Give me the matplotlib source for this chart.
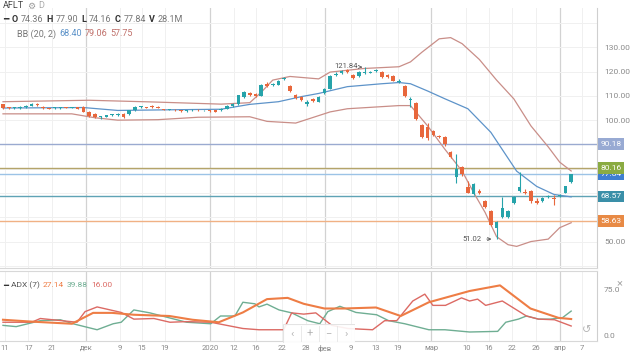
import matplotlib
matplotlib.use("Agg")
import matplotlib.pyplot as plt
from matplotlib.patches import Rectangle
import numpy as np

plt.rcParams['font.family'] = ['Roboto', 'DejaVu Sans']

# ---- data: daily candles (index 0 = 11 Nov 2019) ----
opens = [106.5, 105.2, 105.0, 105.0, 105.4, 106.0, 106.6, 105.5, 105.0, 104.9,
         105.0, 105.3, 105.2, 105.3, 105.5, 103.4, 102.6, 101.3, 101.5, 102.0,
         102.0, 102.7, 102.5, 104.0, 105.3, 105.3, 105.9, 105.5, 104.5, 104.3,
         104.1, 103.9, 103.8, 104.0, 104.1, 104.0, 103.9, 104.0, 104.0, 104.8,
         105.8, 106.5, 109.5, 111.2, 110.8, 110.0, 115.0, 114.3, 114.6, 116.8,
         114.0, 110.3, 109.6, 106.5, 108.8, 107.6, 111.0, 113.0, 118.8, 119.5,
         120.5, 118.5, 118.0, 119.5, 119.6, 120.3, 120.0, 118.8, 118.0, 115.8,
         114.0, 108.5, 107.0, 98.0, 97.0, 95.6, 93.2, 93.0, 86.8, 76.5,
         80.6, 72.3, 69.4, 71.0, 66.5, 62.4, 55.7, 60.0, 60.0, 66.0,
         70.7, 70.5, 70.7, 66.5, 66.5, 68.4, 68.0, 68.8, 70.2, 74.36]
closes = [105.0, 105.0, 105.3, 105.6, 106.0, 106.6, 106.2, 105.0, 104.8, 105.1,
          105.3, 105.2, 105.3, 104.6, 103.4, 101.8, 101.3, 101.5, 102.0, 102.1,
          102.7, 101.3, 104.0, 105.5, 105.4, 105.2, 105.3, 105.2, 104.3, 104.4,
          104.0, 103.8, 103.9, 104.1, 104.0, 104.1, 103.8, 103.5, 104.8, 105.8,
          106.6, 110.2, 111.5, 110.5, 109.8, 114.5, 114.0, 114.7, 116.2, 117.2,
          112.0, 109.2, 108.4, 107.6, 108.0, 109.7, 113.0, 118.0, 119.2, 120.3,
          119.8, 117.5, 120.0, 119.8, 119.7, 120.6, 117.6, 117.6, 116.3, 116.2,
          110.0, 108.8, 100.5, 93.0, 92.5, 93.8, 93.0, 90.0, 84.8, 79.8,
          77.7, 70.2, 73.6, 70.0, 64.4, 57.0, 58.2, 64.0, 62.4, 68.2,
          72.3, 70.0, 66.5, 66.0, 68.0, 68.7, 67.5, 69.0, 72.7, 77.84]
highs = [106.8, 105.5, 105.6, 105.8, 106.2, 106.9, 106.9, 105.8, 105.2, 105.4,
         105.5, 105.6, 105.6, 105.6, 105.7, 103.8, 102.9, 101.9, 102.3, 102.4,
         103.0, 102.9, 104.3, 105.8, 105.8, 105.6, 106.1, 105.8, 104.8, 104.7,
         104.4, 104.2, 104.2, 104.4, 104.4, 104.3, 104.2, 104.2, 105.0, 106.1,
         107.0, 110.5, 112.0, 111.6, 111.2, 114.8, 115.6, 115.2, 116.6, 117.8,
         114.5, 110.8, 110.0, 108.1, 109.2, 110.0, 113.4, 118.4, 119.8, 120.8,
         121.0, 118.9, 120.4, 121.84, 120.1, 121.0, 120.3, 119.2, 118.4, 116.8,
         114.3, 109.5, 107.4, 98.4, 99.0, 96.0, 93.8, 93.4, 87.2, 86.0,
         81.0, 75.0, 74.0, 71.6, 67.0, 62.8, 58.6, 68.5, 62.8, 68.6,
         78.5, 71.8, 71.2, 68.0, 68.4, 69.1, 69.0, 69.4, 73.0, 77.90]
lows = [104.7, 104.7, 104.8, 104.8, 105.2, 105.8, 105.9, 104.7, 104.5, 104.6,
        104.8, 104.9, 105.0, 104.4, 103.2, 101.5, 100.9, 100.5, 101.2, 101.7,
        101.8, 101.0, 102.3, 103.8, 105.0, 104.9, 105.0, 104.9, 104.0, 104.0,
        103.7, 103.5, 103.5, 103.7, 103.8, 103.7, 103.5, 103.2, 103.8, 104.6,
        105.6, 106.3, 109.2, 110.0, 109.4, 109.8, 113.6, 113.9, 114.3, 116.4,
        111.6, 108.9, 108.0, 106.0, 107.6, 107.3, 110.6, 112.8, 118.3, 119.2,
        119.5, 117.1, 117.7, 119.2, 119.3, 120.0, 117.3, 117.2, 116.0, 115.4,
        109.6, 105.5, 100.0, 92.5, 92.0, 93.3, 92.6, 89.5, 84.3, 74.0,
        77.2, 69.8, 69.0, 69.5, 64.0, 56.5, 51.02, 59.5, 59.6, 65.6,
        70.3, 69.5, 66.0, 65.6, 66.2, 68.0, 65.0, 68.4, 70.0, 74.16]

# Bollinger bands (20, 2), read at candle indices
bb_up_idx = [0, 15, 26, 38, 43, 45, 47, 50, 55, 57, 63, 69, 71, 73, 76, 78, 80, 83, 86, 89, 92, 95, 97, 99]
bb_up_val = [107.6, 108.2, 107.5, 106.6, 107.2, 111.5, 116.5, 118.0, 117.0, 119.8, 121.3, 122.0, 124.0,
             128.0, 133.5, 134.0, 131.5, 125.0, 116.5, 108.8, 97.6, 89.0, 82.7, 79.06]
bb_mid_idx = [0, 14, 20, 30, 38, 43, 48, 52, 55, 60, 66, 69, 71, 74, 77, 81, 85, 89.5, 93, 96, 99]
bb_mid_val = [105.0, 105.2, 104.0, 104.3, 104.5, 106.5, 107.6, 109.7, 111.0, 113.8, 115.0, 115.5, 115.0,
              112.0, 108.8, 104.7, 95.0, 79.0, 72.7, 69.4, 68.4]
bb_lo_idx = [0, 12, 16, 20, 27, 34, 43, 46, 51, 57, 60, 69, 71, 74, 77, 80, 82, 84, 86, 88, 89.5, 92, 95, 97, 99]
bb_lo_val = [102.6, 102.6, 101.0, 100.0, 100.2, 101.2, 101.4, 99.5, 98.8, 103.4, 104.7, 106.0, 106.0,
             97.6, 88.0, 79.0, 70.2, 62.0, 52.0, 48.7, 48.0, 50.0, 51.0, 55.7, 57.75]

# ADX (7)
adx_idx = [0, 5, 12, 15.7, 19, 22.8, 29, 33, 37.6, 41.8, 46, 49.6, 52.4, 56, 59.4, 65, 69.3, 74.2, 81.3, 86.6, 91.9, 96.8, 99]
adx_val = [26, 23, 19.6, 37, 37, 34, 32, 26, 22, 37.7, 59, 61, 51.5, 44, 44, 45.6, 32, 54, 72, 81, 44, 29, 27.14]
pdi_idx = [0, 2.3, 6.5, 10, 12.2, 16.4, 19.2, 20.6, 22.8, 25.6, 29, 32, 36.2, 37.9, 40.4, 41.8, 43.9, 44.6,
           46, 48.1, 50.3, 53.1, 55.2, 56.6, 58.7, 61.5, 65.1, 67.2, 70, 74.2, 77, 81.3, 86.2, 87.6, 89.8,
           91.2, 93.3, 95.4, 97.5, 99]
pdi_val = [17, 15, 24.5, 26, 19.6, 10, 19.6, 22, 41.7, 37, 29, 22, 19.6, 32, 32, 54, 51.5, 46.5,
           51, 41.7, 37, 24.5, 19.6, 39, 47.5, 37.7, 34, 24.5, 19.6, 10, 10, 6.4, 7.4, 22, 27,
           32, 27, 27, 29.4, 39.88]
mdi_idx = [0, 5, 6.5, 12.9, 14.3, 16.4, 20.6, 22.8, 26.3, 29.1, 31.9, 36.2, 39, 41.8, 44.6, 48.9, 50.3,
           52.4, 54.5, 57.3, 60.1, 64.4, 66.5, 68.6, 71.4, 73.5, 74.9, 77.1, 79.9, 81.3, 82.7, 84.1, 87,
           89.1, 91.2, 93.3, 96.1, 99]
mdi_val = [22, 22, 28, 22, 39, 46.5, 37.7, 27, 28, 22, 23, 22, 17, 12, 10, 10, 37,
           35, 37, 17, 12, 10, 24.5, 24.5, 56, 67, 49, 49, 61, 56, 59, 49, 56,
           44, 32, 27, 26, 16.0]

# horizontal levels drawn on the chart
levels = [90.18, 77.84, 80.16, 68.57, 58.63]
level_line_colors = ['#9aaad0', '#9cc3e6', '#b4a46a', '#5fa3b5', '#f0b184']
level_box_colors = ['#98aad3', '#3f7fd0', '#8aab42', '#3a8fa8', '#e88a45']

tick_pos = [0.35, 4.4, 8.5, 14.5, 20.4, 24.2, 28.2, 36.1, 40.2, 44.1, 48.6, 52.8, 56.1,
            60.6, 65, 68.8, 74.6, 80.7, 84.7, 88.7, 92.9, 97, 100.9]
tick_labels = ['11', '17', '21', 'дек', '9', '15', '19', '2020', '12', '16', '22', '28', 'фев',
               '9', '13', '19', 'мар', '10', '16', '22', '26', 'апр', '7']
month_pos = [14.5, 36.1, 56.1, 74.6, 97]

UP = '#26a3aa'
DOWN = '#e8673c'
W, H = 630, 355

fig = plt.figure(figsize=(6.3, 3.55), dpi=100)
ax = fig.add_axes([0, 1 - 268 / H, 597 / W, 260 / H])
ax2 = fig.add_axes([0, 1 - 341 / H, 597 / W, 70 / H], sharex=ax)

x0, x1 = -0.52, 103.5
ax.set_xlim(x0, x1)
ax.set_ylim(39.1, 146.2)
ax2.set_ylim(-8, 104)

for a in (ax, ax2):
    for s in ('top', 'left'):
        a.spines[s].set_visible(False)
    a.spines['right'].set_color('#cfcfcf')
    a.spines['bottom'].set_color('#d8d8d8')
    a.yaxis.tick_right()
    a.tick_params(length=0, labelsize=6, labelcolor='#8a8a8a', pad=5)
    for p in tick_pos:
        a.axvline(p, color='#f0f0f0', lw=0.7, zorder=0)
    for p in month_pos:
        a.axvline(p, color='#d2d2d2', lw=0.9, zorder=0)
ax2.spines['top'].set_visible(True)
ax2.spines['top'].set_color('#d8d8d8')

for yv in range(40, 150, 10):
    ax.axhline(yv, color='#f0f0f0', lw=0.7, zorder=0)

ax.set_yticks([50, 100, 110, 120, 130])
ax.set_yticklabels(['50.00', '100.00', '110.00', '120.00', '130.00'])
plt.setp(ax.get_xticklabels(), visible=False)
ax2.set_yticks([0, 75])
ax2.set_yticklabels(['0.0', '75.0'])
ax2.set_xticks(tick_pos)
ax2.set_xticklabels(tick_labels)
ax2.tick_params(axis='x', labelsize=5.5, pad=3)

# levels
for lv, lc in zip(levels, level_line_colors):
    ax.axhline(lv, color=lc, lw=1.0, zorder=1)

# bollinger
ax.plot(bb_up_idx, bb_up_val, color='#c98e88', lw=0.9, zorder=2)
ax.plot(bb_lo_idx, bb_lo_val, color='#c98e88', lw=0.9, zorder=2)
ax.plot(bb_mid_idx, bb_mid_val, color='#5d93c9', lw=0.9, zorder=2)

# candles
idx = np.arange(len(closes))
o = np.array(opens)
c = np.array(closes)
col = [UP if cc >= oo else DOWN for oo, cc in zip(o, c)]
ax.vlines(idx, lows, highs, colors=col, lw=0.8, zorder=3)
body = np.maximum(np.abs(c - o), 0.35)
ax.bar(idx, body, bottom=np.minimum(o, c), width=0.62, color=col, zorder=4)

hi_i = int(np.argmax(highs))
lo_i = int(np.argmin(lows))
ax.annotate('%.2f' % highs[hi_i], xy=(hi_i - 0.4, highs[hi_i]), xytext=(hi_i - 5.2, highs[hi_i] + 0.3),
            fontsize=5.5, color='#555555', va='center', ha='left',
            arrowprops=dict(arrowstyle='->', color='#555555', lw=0.6), zorder=6)
ax.annotate('%.2f' % lows[lo_i], xy=(lo_i - 0.4, lows[lo_i]), xytext=(lo_i - 6, lows[lo_i]),
            fontsize=5.5, color='#555555', va='center', ha='left',
            arrowprops=dict(arrowstyle='->', color='#555555', lw=0.6), zorder=6)

# price boxes on the right axis
for lv, bc in zip(levels, level_box_colors):
    ax.text(x1 + 0.6, lv, '%.2f' % lv, color='white', fontsize=6, va='center', ha='left',
            bbox=dict(boxstyle='square,pad=0.35', fc=bc, ec='none'), clip_on=False, zorder=10)

# ADX panel
ax2.plot(pdi_idx, pdi_val, color='#6fae93', lw=1.0)
ax2.plot(mdi_idx, mdi_val, color='#dc6a64', lw=1.0)
ax2.plot(adx_idx, adx_val, color='#ee7d45', lw=1.5)

# nav buttons overlay
nav = fig.add_axes([283 / W, 1 - 343 / H, 72 / W, 19 / H])
nav.set_xlim(0, 4)
nav.set_ylim(0, 1)
nav.axis('off')
nav.add_patch(Rectangle((0, 0), 4, 1, fc='white', ec='#e2e2e2', lw=0.8, alpha=0.9))
for k, s in enumerate(['‹', '+', '−', '›']):
    nav.text(k + 0.5, 0.5, s, ha='center', va='center', fontsize=8, color='#b5b5b5')
    if k:
        nav.plot([k, k], [0.1, 0.9], color='#e6e6e6', lw=0.6)
fig.text(587 / W, 1 - 330 / H, '↺', ha='center', va='center', fontsize=8, color='#b5b5b5')
fig.text(620 / W, 1 - 283 / H, '×', ha='center', va='center', fontsize=8, color='#aaaaaa')

# header rows
renderer = fig.canvas.get_renderer()


def row(xpix, ypix, parts, size=6.5):
    xp = xpix
    for s, color, weight in parts:
        t = fig.text(xp / W, 1 - ypix / H, s, color=color, fontsize=size, fontweight=weight,
                     va='center', ha='left')
        xp += t.get_window_extent(renderer).width + 3


row(3, 6, [('AFLT', '#444444', 'normal'), ('⚙', '#999999', 'normal'), ('D', '#aaaaaa', 'normal')])
row(3, 19, [('━', '#333333', 'bold'), ('O', '#333333', 'bold'), ('74.36', '#777777', 'normal'),
            ('H', '#333333', 'bold'), ('77.90', '#777777', 'normal'),
            ('L', '#333333', 'bold'), ('74.16', '#777777', 'normal'),
            ('C', '#333333', 'bold'), ('77.84', '#777777', 'normal'),
            ('V', '#333333', 'bold'), ('28.1M', '#777777', 'normal')])
row(17, 34, [('BB (20, 2)', '#777777', 'normal'), ('68.40', '#5d93c9', 'normal'),
             ('79.06', '#c0706a', 'normal'), ('57.75', '#c0706a', 'normal')])
row(3, 285, [('━', '#333333', 'bold'), ('ADX (7)', '#555555', 'normal'), ('27.14', '#ee7d45', 'normal'),
             ('39.88', '#6fae93', 'normal'), ('16.00', '#dc6a64', 'normal')], size=6)

fig.savefig('out.png', dpi=100)
